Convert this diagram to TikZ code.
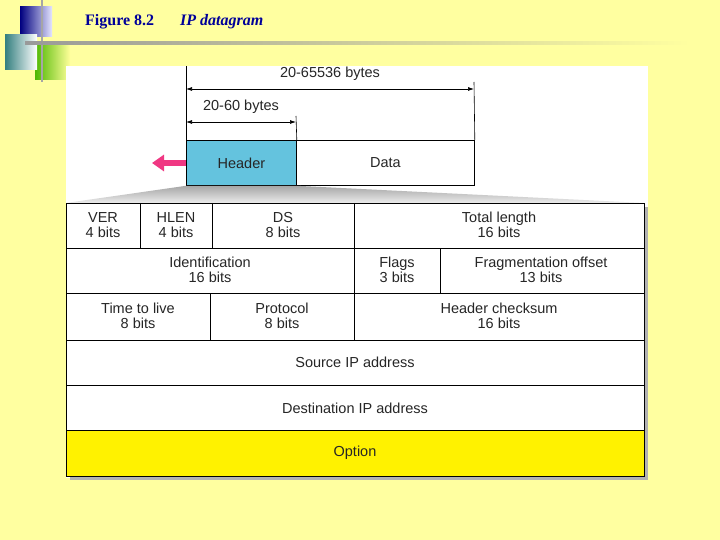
\documentclass[tikz,border=0pt]{standalone}
\usepackage{fontspec}
\usetikzlibrary{arrows.meta}
\setmainfont{Liberation Sans}
\newfontfamily\titlefont{Liberation Serif}
\definecolor{hdrblue}{RGB}{100,195,222}
\definecolor{bgyel}{RGB}{255,255,160}
\begin{document}
\begin{tikzpicture}[x=1pt,y=-1pt,
  txt/.style={font=\fontsize{14.5}{15}\selectfont,text=black!85,align=center,inner sep=0pt},
  cell/.style={draw=black,line width=0.8pt},
  dim/.style={{Latex[length=6pt,width=4pt]}-{Latex[length=6pt,width=4pt]},line width=0.7pt}]
\useasboundingbox (0,0) rectangle (720,540);
\fill[bgyel] (0,0) rectangle (720,540);
% logo
\shade[left color=blue!50!black,right color=blue!10!white] (20,7) rectangle (52,37);
\shade[left color=green!60!black!70!yellow,right color=yellow!40] (35,45) rectangle (70,80);
\shade[left color=teal!60!gray,right color=white] (5,35) rectangle (37,70);
\draw[gray!70,line width=2pt] (42,0) -- (42,82);
\shade[left color=gray!80,right color=bgyel] (25,41.5) rectangle (690,45);
\node[anchor=west,inner sep=0pt,text=blue!60!black,font=\titlefont\bfseries\fontsize{16}{18}\selectfont] (t1) at (85,22) {Figure 8.2};
\node[anchor=west,inner sep=0pt,text=blue!60!black,font=\titlefont\bfseries\itshape\fontsize{16}{18}\selectfont] (t2) at (180,22) {IP datagram};
% panel
\fill[white] (66,66) rectangle (648,478);
% header/data
\node[cell,fill=hdrblue,minimum width=110,minimum height=45,anchor=north west,txt] (hdr) at (186,140) {Header};
\node[cell,minimum width=178,minimum height=45,anchor=north west,txt] (data) at (296,140) {Data};
\draw[line width=0.6pt] (186,66) -- (hdr.north west);
\draw[line width=0.6pt] (296,116) -- (hdr.north east);
\draw[line width=0.6pt] (474,82) -- (data.north east);
\coordinate (a1) at (186,89); \coordinate (a2) at (474,89);
\coordinate (b1) at (186,122); \coordinate (b2) at (296,122);
\draw[dim] (a1) -- (a2);
\draw[dim] (b1) -- (b2);
\node[txt,fill=white,inner sep=1pt] (l1) at (330,74) {20-65536 bytes};
\node[txt] (l2) at (241,107) {20-60 bytes};
\coordinate (pa) at (186,163); \coordinate (pb) at (152,163);
\draw[-{Triangle[length=12pt,width=16pt]},line width=6pt,draw=magenta!70!red!80] (pa) -- (pb);
% trapezoid
\shade[top color=gray!70,bottom color=gray!15] (hdr.south west) -- (hdr.south east) -- (644,203) -- (66,203) -- cycle;
% table shadow
\fill[gray!60] (648,207) rectangle (644,480);
\fill[gray!60] (70,476) rectangle (648,480);
% rows
\fill[yellow] (66,430) rectangle (644,476);
\draw[cell] (66,203) rectangle (644,476);
\foreach \y in {248,293,340,385,430} \draw[cell] (66,\y) -- (644,\y);
\draw[cell] (140,203) -- (140,248);
\draw[cell] (212,203) -- (212,248);
\draw[cell] (354,203) -- (354,340);
\draw[cell] (440,248) -- (440,293);
\draw[cell] (210,293) -- (210,340);
\node[txt] (c1) at (103,225) {VER\\4 bits};
\node[txt] (c2) at (176,225) {HLEN\\4 bits};
\node[txt] (c3) at (283,225) {DS\\8 bits};
\node[txt] (c4) at (499,225) {Total length\\16 bits};
\node[txt] (c5) at (210,270) {Identification\\16 bits};
\node[txt] (c6) at (397,270) {Flags\\3 bits};
\node[txt] (c7) at (541,270) {Fragmentation offset\\13 bits};
\node[txt] (c8) at (138,316) {Time to live\\8 bits};
\node[txt] (c9) at (282,316) {Protocol\\8 bits};
\node[txt] (c10) at (499,316) {Header checksum\\16 bits};
\node[txt] (c11) at (355,362) {Source IP address};
\node[txt] (c12) at (355,408) {Destination IP address};
\node[txt] (c13) at (355,453) {Option};
\end{tikzpicture}
\end{document}
